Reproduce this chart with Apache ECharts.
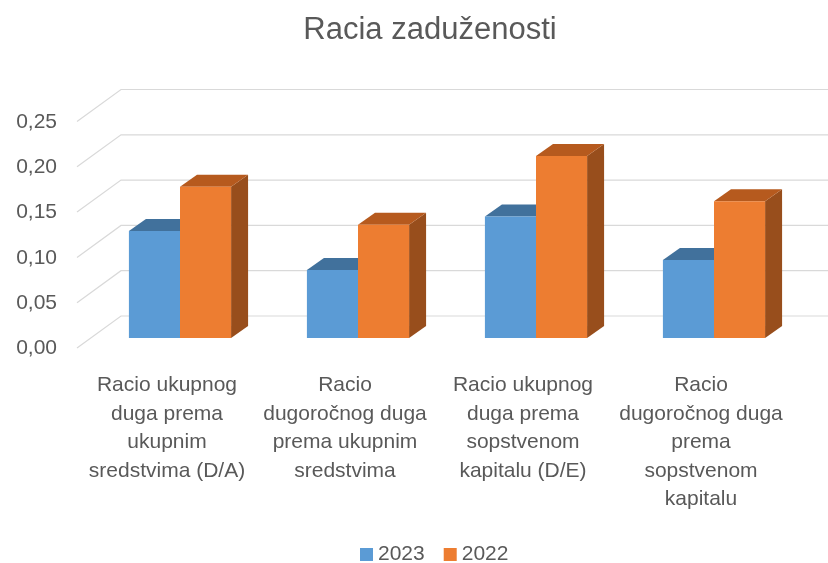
<!DOCTYPE html>
<html>
<head>
<meta charset="utf-8">
<script src="https://cdn.jsdelivr.net/npm/echarts@6/dist/echarts.min.js"></script>
<style>
  html, body { margin: 0; padding: 0; background: #fff; }
  #chart { width: 828px; height: 563px; }
</style>
</head>
<body>
<div id="chart"></div>
<script>
const categories = [
  'Racio ukupnog\nduga prema\nukupnim\nsredstvima (D/A)',
  'Racio\ndugoročnog duga\nprema ukupnim\nsredstvima',
  'Racio ukupnog\nduga prema\nsopstvenom\nkapitalu (D/E)',
  'Racio\ndugoročnog duga\nprema\nsopstvenom\nkapitalu'
]
const values2023 = [0.118, 0.075, 0.134, 0.086]
const values2022 = [0.167, 0.125, 0.201, 0.151]
const yTicks = [0, 0.05, 0.1, 0.15, 0.2, 0.25]

const FONT = 'Liberation Sans'
const TEXT = '#595959'
// depth of the bars (oblique projection)
const DX = 17
const DY = -12

const chart = echarts.init(document.getElementById('chart'))

// floor/wall gridlines: short diagonal from the front plane, then the back wall
function renderGrid(params, api) {
  const cs = params.coordSys
  const y = api.coord([0, api.value(1)])[1]
  const x0 = cs.x
  return {
    type: 'polyline',
    silent: true,
    shape: { points: [[x0 - 14, y + 10], [x0 + 30, y - 22], [api.getWidth(), y - 22]] },
    style: { stroke: '#D9D9D9', lineWidth: 1.2, fill: null }
  }
}

function makeBar(left, colors) {
  return function (params, api) {
    const idx = api.value(0)
    const top = api.coord([idx, api.value(1)])
    const base = api.coord([idx, 0])
    const w = api.size([1, 0])[0] * 0.287
    const x = left ? top[0] - w : top[0]
    const yt = top[1]
    const yb = base[1]
    return {
      type: 'group',
      children: [
        { // side
          type: 'polygon',
          shape: { points: [[x + w, yt], [x + w + DX, yt + DY], [x + w + DX, yb + DY], [x + w, yb]] },
          style: { fill: colors[2] }
        },
        { // top
          type: 'polygon',
          shape: { points: [[x, yt], [x + DX, yt + DY], [x + w + DX, yt + DY], [x + w, yt]] },
          style: { fill: colors[1] }
        },
        { // front
          type: 'rect',
          shape: { x: x, y: yt, width: w, height: yb - yt },
          style: { fill: colors[0] }
        }
      ]
    }
  }
}

chart.setOption({
  animation: false,
  title: {
    text: 'Racia zaduženosti',
    left: 430,
    top: 15,
    padding: 0,
    textAlign: 'center',
    textStyle: { fontFamily: FONT, fontSize: 31, fontWeight: 'normal', color: TEXT }
  },
  legend: {
    data: ['2023', '2022'],
    left: 360,
    top: 544,
    padding: 0,
    itemWidth: 13,
    itemHeight: 13,
    itemGap: 19,
    icon: 'rect',
    textStyle: { fontFamily: FONT, fontSize: 21, color: TEXT }
  },
  grid: {
    left: 91,
    right: 25,
    top: 111.5,
    bottom: 225,
    containLabel: false
  },
  xAxis: {
    type: 'category',
    data: categories,
    axisLine: { show: false },
    axisTick: { show: false },
    axisLabel: {
      interval: 0,
      margin: 33,
      padding: [0, 26, 0, 0],
      fontFamily: FONT,
      fontSize: 21,
      lineHeight: 28.5,
      color: TEXT
    }
  },
  yAxis: {
    type: 'value',
    min: 0,
    max: 0.25,
    interval: 0.05,
    splitLine: { show: false },
    axisLine: { show: false },
    axisTick: { show: false },
    axisLabel: {
      margin: 34,
      verticalAlign: 'top',
      fontFamily: FONT,
      fontSize: 21,
      color: TEXT,
      formatter: function (v) { return v.toFixed(2).replace('.', ',') }
    }
  },
  series: [
    {
      name: 'grid',
      type: 'custom',
      z: 1,
      silent: true,
      renderItem: renderGrid,
      data: yTicks.map(function (v) { return [0, v] })
    },
    {
      name: '2023',
      type: 'custom',
      z: 2,
      itemStyle: { color: '#5B9BD5' },
      renderItem: makeBar(true, ['#5B9BD5', '#41719C', '#34608A']),
      data: values2023.map(function (v, i) { return [i, v] })
    },
    {
      name: '2022',
      type: 'custom',
      z: 3,
      itemStyle: { color: '#ED7D31' },
      renderItem: makeBar(false, ['#ED7D31', '#B65A1E', '#984E1C']),
      data: values2022.map(function (v, i) { return [i, v] })
    }
  ]
})
</script>
</body>
</html>
